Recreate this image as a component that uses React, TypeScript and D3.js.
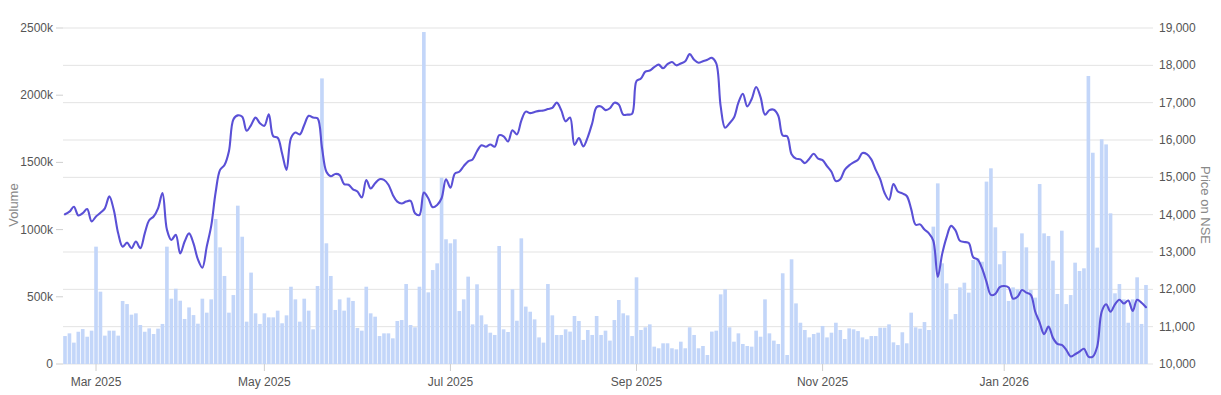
import React from 'react';
import * as d3 from 'd3';

// daily traded volume, in thousands of shares (one value per NSE session)
const volumeK = [
  208, 228, 159, 240, 260, 203, 248, 873, 538, 211, 248, 248, 211, 469, 446, 367, 377, 290, 240, 265,
  223, 263, 298, 873, 486, 560, 471, 335, 421, 364, 300,
  486, 382, 481, 1079, 868, 655, 382, 513, 1178, 947, 315, 680, 377, 298, 377, 347, 347, 397, 303,
  362, 575, 481, 315, 486, 397, 258, 580, 2125, 898,
  655, 402, 481, 397, 494, 469, 268, 248, 575, 377, 352, 208, 228, 228, 191, 320, 327, 595, 290, 273,
  575, 2470, 533, 699, 749, 1386,
  928, 898, 928, 394, 481, 650, 295, 593, 362, 295, 233, 216, 878, 258, 238, 556, 322, 935, 427, 389,
  332, 198, 159, 595, 362, 216, 216, 258, 241, 357, 320, 179, 253, 216, 357, 216, 248, 174, 327, 476,
  377, 362, 208, 645, 253, 273, 295, 129, 117, 154, 154, 117, 109, 166, 117, 273, 216, 117, 134, 67,
  241, 248, 518, 556, 273, 166, 228, 149, 134, 129, 248, 203, 481, 228, 174, 149, 675, 67, 779, 451,
  307, 253, 198, 223, 233,
  283, 198, 233, 307, 253, 186, 265, 258, 245, 198, 184, 208, 208, 270, 270, 295, 161, 141, 236, 154,
  382, 273, 263, 312, 253, 1022, 1344, 749, 600, 332, 372, 570, 605, 531, 774, 786, 761, 1357, 1456, 1017,
  742, 841, 469, 570, 556, 972, 868, 551, 494, 1339, 972, 952, 769, 521, 992, 446, 513, 754, 692, 712,
  2143, 1572, 866, 1672, 1634, 1121, 526, 595, 481, 307, 481, 645, 298, 588,
];

// closing price on NSE, same sessions
const priceNse = [
  14010, 14080, 14210, 13980, 14040, 14150, 13820, 13950, 14050, 14170,
  14490, 14130, 13500, 13140, 13250, 13100, 13280, 13100, 13500, 13850,
  13950, 14170, 14580, 13600, 13320, 13460, 12960, 13280, 13500, 13230,
  12800, 12580, 13150, 13700, 14600, 15200, 15330, 15700, 16550, 16660,
  16620, 16250, 16400, 16600, 16450, 16380, 16690, 16100, 16060, 15640,
  15200, 16050, 16200, 16150, 16400, 16650, 16600, 16580, 15800, 15150,
  15030, 15090, 15060, 14820, 14800, 14680, 14620, 14460, 14930, 14700,
  14840, 14950, 14930, 14800, 14530, 14350, 14300, 14350, 14370, 14040,
  13990, 14590, 14440, 14200, 14260, 14440, 14950, 14720, 15100, 15150,
  15300, 15430, 15480, 15700, 15860, 15820, 15880, 15820, 16130, 16100,
  15960, 16260, 16150, 16520, 16760, 16720, 16750, 16780, 16790, 16830,
  16860, 17000, 16800, 16500, 16600, 15870, 16050, 15830, 16080, 16450,
  16880, 16900, 16800, 16850, 17000, 16950, 16680, 16680, 16700, 17580,
  17650, 17830, 17860, 17950, 18020, 17920, 18030, 18090, 18000, 18050,
  18110, 18300, 18150, 18070, 18110, 18150, 18200, 18050, 16900, 16330,
  16450, 16600, 17000, 17240, 16900, 17100, 17420, 17150, 16680, 16800,
  16810, 16650, 16120, 16100, 15620, 15500, 15480, 15380, 15500, 15630,
  15500, 15460, 15300, 15150, 14900, 14950, 15200, 15320, 15400, 15470,
  15650, 15620, 15480, 15200, 14950, 14580, 14400, 14820, 14620, 14570,
  14500, 14150, 13730, 13740, 13600, 13500, 13300, 12330, 12950, 13400,
  13700, 13580, 13300, 13270, 13240, 12860, 12800, 12560, 12200, 11850,
  11880, 12060, 12090, 12050, 11750, 11800, 11980, 11910, 11850, 11400,
  11110, 10800, 11000, 10700, 10540, 10510, 10380, 10200, 10260, 10330,
  10410, 10200, 10200, 10470, 11400, 11600, 11400, 11600, 11720, 11620,
  11700, 11420, 11720, 11640, 11520,
];

// exchange holidays inside the period (weekends are skipped anyway)
const holidays = [
  '2025-02-26', '2025-03-14', '2025-03-31', '2025-04-10', '2025-04-14', '2025-04-18',
  '2025-05-01', '2025-08-15', '2025-08-27', '2025-10-02', '2025-10-21', '2025-10-22',
  '2025-11-05', '2025-12-25', '2026-01-15', '2026-01-26',
];
const firstSession = '2025-02-19';

const volumeTicks = [0, 500, 1000, 1500, 2000, 2500];
const priceTicks = [10000, 11000, 12000, 13000, 14000, 15000, 16000, 17000, 18000, 19000];
const labelledMonths = [2, 4, 6, 8, 10, 0]; // Mar, May, Jul, Sep, Nov, Jan

const W = 1221;
const H = 395;
const plot = { left: 63, right: 1153, top: 28, bottom: 364 };
const FONT = '"Liberation Sans", Arial, sans-serif';

function sessions(start: string, n: number, skip: string[]) {
  const out: Date[] = [];
  const d = new Date(start + 'T00:00:00Z');
  while (out.length < n) {
    const wd = d.getUTCDay();
    const key = d.toISOString().slice(0, 10);
    if (wd !== 0 && wd !== 6 && !skip.includes(key)) out.push(new Date(d));
    d.setUTCDate(d.getUTCDate() + 1);
  }
  return out;
}

export default function App() {
  const dates = sessions(firstSession, volumeK.length, holidays);
  const idx = d3.range(volumeK.length);

  const x = d3.scaleBand<number>()
    .domain(idx)
    .range([62.8, 1148.2])
    .paddingInner(0.18)
    .paddingOuter(0.09);
  const cx = (i: number) => (x(i) ?? 0) + x.bandwidth() / 2;

  const yVol = d3.scaleLinear().domain([0, 2500]).range([plot.bottom, plot.top]);
  const yPrice = d3.scaleLinear().domain([10000, 19000]).range([plot.bottom, plot.top]);

  const line = d3.line<number>()
    .x(i => cx(i))
    .y(i => yPrice(priceNse[i]))
    .curve(d3.curveCatmullRom.alpha(0.5));

  const fmtMonth = d3.utcFormat('%b %Y');
  const monthTicks = idx.filter(i =>
    i > 0 &&
    dates[i].getUTCMonth() !== dates[i - 1].getUTCMonth() &&
    labelledMonths.includes(dates[i].getUTCMonth())
  );

  return (
    <div style={{ position: 'absolute', left: 0, top: 0 }}>
      <svg width={W} height={H} style={{ display: 'block', background: '#fff' }} fontFamily={FONT}>
        {/* grid from the price axis */}
        {priceTicks.map(t => (
          <line key={t} x1={plot.left} x2={plot.right} y1={yPrice(t)} y2={yPrice(t)}
            stroke="#e3e3e3" strokeWidth={1} />
        ))}

        {/* volume bars */}
        <g fill="#c3d6f9">
          {idx.map(i => (
            <rect key={i} x={x(i)} y={yVol(volumeK[i])} width={x.bandwidth()}
              height={yVol(0) - yVol(volumeK[i])} />
          ))}
        </g>

        {/* price line */}
        <path d={line(idx) ?? ''} fill="none" stroke="#5a50d6" strokeWidth={2.1}
          strokeLinejoin="round" strokeLinecap="round" />

        {/* left axis */}
        {volumeTicks.map(t => (
          <g key={t}>
            <line x1={56} x2={plot.left} y1={yVol(t)} y2={yVol(t)} stroke="#cfcfcf" />
            <text x={53} y={yVol(t) + 4} textAnchor="end" fontSize={12} fill="#555">
              {t === 0 ? '0' : `${t}k`}
            </text>
          </g>
        ))}
        <text transform={`translate(18,205) rotate(-90)`} textAnchor="middle" fontSize={13} fill="#888">
          Volume
        </text>

        {/* right axis */}
        {priceTicks.map(t => (
          <text key={t} x={1159} y={yPrice(t) + 4} fontSize={12} fill="#555">
            {d3.format(',')(t)}
          </text>
        ))}
        <text transform={`translate(1201,205) rotate(90)`} textAnchor="middle" fontSize={13} fill="#888">
          Price on NSE
        </text>

        {/* bottom axis */}
        {monthTicks.map(i => (
          <g key={i}>
            <line x1={cx(i)} x2={cx(i)} y1={plot.bottom} y2={plot.bottom + 7} stroke="#cfcfcf" />
            <text x={cx(i)} y={386} textAnchor="middle" fontSize={12} fill="#555">
              {fmtMonth(dates[i])}
            </text>
          </g>
        ))}
      </svg>
    </div>
  );
}
